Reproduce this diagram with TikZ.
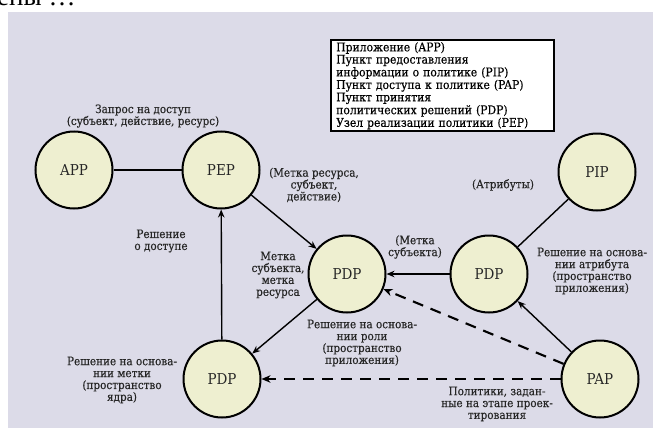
\documentclass[tikz,border=0pt]{standalone}
\usepackage{fontspec}
\usetikzlibrary{arrows.meta,shapes.geometric}
\newfontfamily\labfont[FakeBold=0.4]{DejaVu Serif Condensed}
\newfontfamily\nodefont{DejaVu Serif Condensed}
\newfontfamily\topfont{Liberation Serif}
\definecolor{panelbg}{RGB}{220,219,232}
\definecolor{nodefill}{RGB}{238,239,208}
\tikzset{
  state/.style={circle, draw=black, line width=2pt, fill=nodefill, minimum size=77pt, inner sep=0pt,
    text=black!85, font=\nodefont\fontsize{15}{16}\selectfont},
  lbl/.style={align=center, inner sep=0pt, text=black!85, font=\labfont\fontsize{11.6}{11.9}\selectfont},
  plainline/.style={line width=1.4pt, black},
  arr/.style={line width=1.4pt, black, -{Stealth[length=8pt,width=6.5pt]}},
  dasharr/.style={line width=2.1pt, black, dash pattern=on 11pt off 8pt, -{Stealth[length=9pt,width=7.5pt]}},
  legendbox/.style={draw=black, line width=2.4pt, fill=white, anchor=north west, text width=213pt,
    align=left, inner xsep=5pt, inner ysep=2pt, minimum height=89pt,
    font=\labfont\fontsize{12}{10.9}\selectfont}
}
\begin{document}
\begin{tikzpicture}[x=1pt,y=-1pt]
\useasboundingbox (0,0) rectangle (655,428);
\fill[white] (0,0) rectangle (655,428);
\fill[panelbg] (8,12) rectangle (653,428);
\node[anchor=base west, inner sep=0pt, font=\topfont\fontsize{27}{27}\selectfont] (toptext) at (-3,6) {ены …};

\node[legendbox] (legend) at (330,39) {Приложение (APP)\\Пункт предоставления\\информации о политике (PIP)\\Пункт доступа к политике (PAP)\\Пункт принятия\\политических решений (PDP)\\Узел реализации политики (PEP)};

\node[state] (app) at (74,170) {APP};
\node[state] (pep) at (221,170) {PEP};
\node[state] (pip) at (597,172) {PIP};
\node[state] (pdpc) at (347,274) {PDP};
\node[state] (pdpr) at (489,274) {PDP};
\node[state] (pdpb) at (222,379) {PDP};
\node[state] (pap) at (600,379) {PAP};

\draw[plainline] (app) -- (pep);
\draw[arr] (pep) -- (pdpc);
\draw[arr] (pdpc) -- (pdpb);
\draw[arr] (pdpb) -- (pep);
\draw[arr] (pdpr) -- (pdpc);
\draw[plainline] (pip) -- (pdpr);
\draw[arr] (pap) -- (pdpr);
\draw[dasharr] (pap) -- (pdpc);
\draw[dasharr] (pap) -- (pdpb);

\node[lbl] (l1) at (143,116) {Запрос на доступ\\(субъект, действие, ресурс)};
\node[lbl] (l2) at (314,185) {(Метка ресурса,\\субъект,\\действие)};
\node[lbl] (l3) at (503,185) {(Атрибуты)};
\node[lbl] (l4) at (161,241) {Решение\\о доступе};
\node[lbl] (l5) at (415,247) {(Метка\\субъекта)};
\node[lbl] (l6) at (278,275) {Метка\\субъекта,\\метка\\ресурса};
\node[lbl] (l7) at (592,271) {Решение на основа-\\нии атрибута\\(пространство\\приложения)};
\node[lbl] (l8) at (362,343) {Решение на основа-\\нии роли\\(пространство\\приложения)};
\node[lbl] (l9) at (122,380) {Решение на основа-\\нии метки\\(пространство\\ядра)};
\node[lbl] (l10) at (497,404) {Политики, задан-\\ные на этапе проек-\\тирования};
\end{tikzpicture}
\end{document}
